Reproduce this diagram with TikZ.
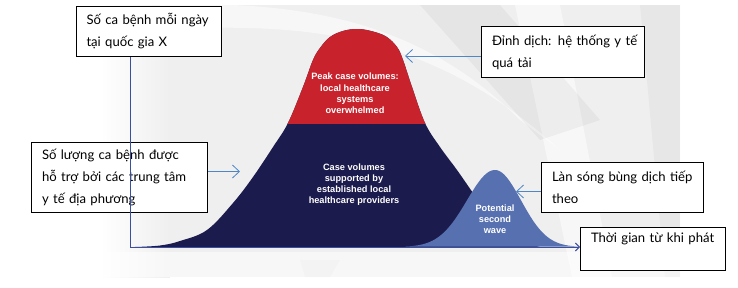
\documentclass[tikz,border=0pt]{standalone}
\usepackage{fontspec}
\setmainfont{Lato}
\newfontfamily\chartfont{Liberation Sans}
\usetikzlibrary{arrows.meta}
\definecolor{peakred}{HTML}{C8232C}
\definecolor{navyc}{HTML}{1C1B4D}
\definecolor{wavec}{HTML}{5670B0}
\definecolor{conn}{HTML}{4F86C6}
\definecolor{axisc}{HTML}{3C4E9E}
\definecolor{bgc}{HTML}{EFEFEF}
\tikzset{
  textbox/.style={draw=black, line width=1pt, fill=white, anchor=north west,
    align=left, inner xsep=10.5pt, inner ysep=0pt,
    font=\fontsize{13.1}{22}\selectfont},
  charttext/.style={text=white, align=center, inner sep=0pt,
    font=\chartfont\bfseries\fontsize{9.2}{11.2}\selectfont},
  connector/.style={draw=conn, line width=0.8pt, -{Straight Barb[length=7pt,width=13pt]}},
}
\begin{document}
\begin{tikzpicture}[x=1pt,y=-1pt]
\useasboundingbox (0,0) rectangle (738,287);
% background panel
\fill[bgc] (100,5) rectangle (680,277);
\shade[left color=white, right color=bgc] (100,5) rectangle (170,277);
\fill[white, opacity=0.55] (515,5) -- (560,5) -- (612,277) -- (572,277) -- cycle;
\fill[white, opacity=0.5] (160,5) .. controls (300,0) and (420,20) .. (520,120) -- (560,150) .. controls (440,40) and (320,20) .. (160,30) -- cycle;
\fill[black, opacity=0.04] (420,5) -- (500,5) -- (600,120) -- (540,140) -- cycle;
\fill[black, opacity=0.03] (300,260) -- (340,260) -- (330,277) -- (305,277) -- cycle;
\fill[black, opacity=0.03] (640,5) -- (680,5) -- (680,277) -- (665,277) -- cycle;
\fill[white, opacity=0.5] (100,252) rectangle (680,277);

% main wave
\def\mainpts{(135,247) (160,245.5) (180,241) (207,230) (233,203) (253,177) (273,147) (288,123) (303,87) (313,60) (320,48) (330,37) (343,31) (357,29) (371,31) (386,36.5) (397,47) (403,60) (412,87) (425,123) (440,147) (457,170) (473,193) (492,220) (512,237) (540,247)}
\fill[navyc] plot[smooth, tension=0.6] coordinates {\mainpts} -- cycle;
\begin{scope}
  \clip (0,0) rectangle (738,123.5);
  \fill[peakred] plot[smooth, tension=0.6] coordinates {\mainpts} -- cycle;
\end{scope}
% second wave
\fill[wavec] plot[domain=405:495, samples=60] (\x,{247-77*exp(-0.5*((\x-495)/28)^2)})
  -- plot[domain=495:578, samples=60] (\x,{247-77*exp(-0.5*((\x-495)/26)^2)}) -- cycle;

% chart texts
\node[charttext] (peaktxt) at (355,93.5) {Peak case volumes:\\local healthcare\\systems\\overwhelmed};
\node[charttext] (casetxt) at (354,184.5) {Case volumes\\supported by\\established local\\healthcare providers};
\node[charttext] (wavetxt) at (495,219.5) {Potential\\second\\wave};

% text boxes
\node[textbox, text width=124pt, minimum height=50pt] (ybox) at (75.5,6) {\mbox{Số ca bệnh mỗi ngày}\\\mbox{tại quốc gia X}};
\node[textbox, text width=142pt, minimum height=51pt] (peakbox) at (481,26) {\mbox{Đỉnh dịch: hệ thống y tế}\\\mbox{quá tải}};
\node[textbox, text width=155pt, minimum height=70pt] (localbox) at (31,142) {\mbox{Số lượng ca bệnh được}\\\mbox{hỗ trợ bởi các trung tâm}\\\mbox{y tế địa phương}};
\node[textbox, text width=141pt, minimum height=50pt] (nextbox) at (541,162) {\mbox{Làn sóng bùng dịch tiếp}\\\mbox{theo}};
\node[textbox, text width=124pt, minimum height=43pt] (timebox) at (580,227) {\mbox{Thời gian từ khi phát}\\\mbox{}};

% axes
\coordinate (origin) at (130,247);
\draw[axisc, line width=0.9pt] (origin) -- (origin |- ybox.south);
\draw[axisc, line width=0.9pt, -{Straight Barb[length=4pt,width=8pt]}] (origin) -- (origin -| timebox.west);

% connectors
\coordinate (peaktip) at (405,56);
\coordinate (localtip) at (240,171.5);
\coordinate (nexttip) at (516,191.5);
\draw[connector] (peakbox.west |- peaktip) -- (peaktip);
\draw[connector] (localbox.east |- localtip) -- (localtip);
\draw[connector] (nextbox.west |- nexttip) -- (nexttip);
\end{tikzpicture}
\end{document}
